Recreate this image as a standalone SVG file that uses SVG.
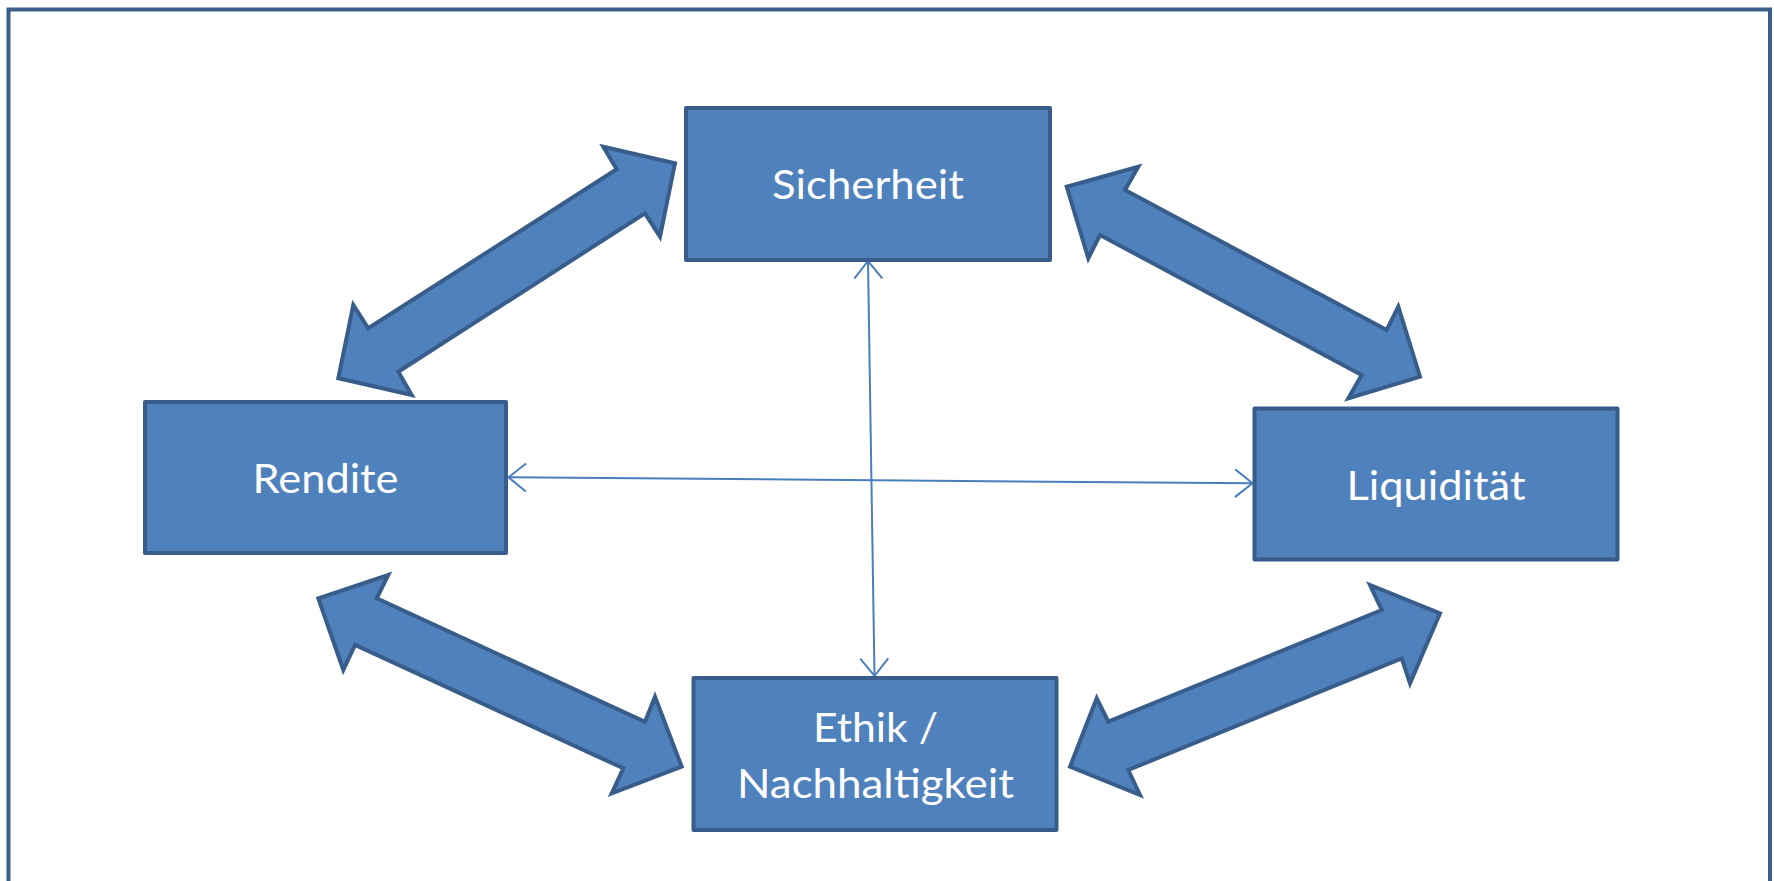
<svg xmlns="http://www.w3.org/2000/svg" width="1774" height="881" viewBox="0 0 1774 881">
<style>
.box{fill:#4f81bd;stroke:#385d8a;stroke-width:4;stroke-linejoin:round}
.big{fill:#4f81bd;stroke:#385d8a;stroke-width:4;stroke-linejoin:miter}
.lbl{font-family:Lato,"Open Sans","Liberation Sans",sans-serif;font-size:41px;fill:#ffffff;text-anchor:middle}
.thin{fill:none;stroke:#4a7ebb;stroke-width:2}
</style>
<defs>
<marker id="open" markerUnits="userSpaceOnUse" markerWidth="40" markerHeight="40" viewBox="-20 -20 40 40" refX="0" refY="0" orient="auto-start-reverse" overflow="visible">
<path d="M-17.5,-14 L0,0 L-17.5,14" fill="none" stroke="#4a7ebb" stroke-width="2"/>
</marker>
</defs>
<rect x="0" y="0" width="1774" height="881" fill="#ffffff"/>
<rect id="frame" x="8.5" y="9.5" width="1761.5" height="900" fill="none" stroke="#3a5f8b" stroke-width="4"/>
<g id="connectors">
<polygon class="big" points="603.3,146.7 675,163.3 660,236.7 645,213.3 398.3,371.7 411.7,395 338.3,378.3 353.3,305 368.3,328.3 616.7,169.3"/>
<polygon class="big" points="1066.7,186.7 1138.3,166.7 1125,190 1386.7,330 1398.3,306.7 1420,376.7 1348.3,398.3 1361.7,375 1100,235 1088.3,258.3"/>
<polygon class="big" points="318.3,598.3 388.3,575 376.7,598.3 645,721.7 655,696.7 681.7,766.7 611.7,793.3 623.3,768.3 355,645 343.3,670"/>
<polygon class="big" points="1440,613.3 1370,585 1381.7,610 1108.3,721.7 1096.7,698.3 1070,766.7 1140,795 1128.3,770 1401.7,658.3 1410,683.3"/>
<line class="thin" x1="868" y1="261" x2="874.5" y2="676" marker-start="url(#open)" marker-end="url(#open)"/>
<line class="thin" x1="508.5" y1="477.3" x2="1252.5" y2="483.3" marker-start="url(#open)" marker-end="url(#open)"/>
</g>
<g id="sicherheit">
<rect class="box" x="686" y="108" width="364" height="152"/>
<text class="lbl" x="868" y="199" textLength="192" lengthAdjust="spacingAndGlyphs">Sicherheit</text>
</g>
<g id="rendite">
<rect class="box" x="145" y="402" width="361" height="151"/>
<text class="lbl" x="325.5" y="493" textLength="146" lengthAdjust="spacingAndGlyphs">Rendite</text>
</g>
<g id="liquiditaet">
<rect class="box" x="1254.5" y="408.5" width="363" height="151"/>
<text class="lbl" x="1436" y="500" textLength="179" lengthAdjust="spacingAndGlyphs">Liquidität</text>
</g>
<g id="ethik">
<rect class="box" x="693.5" y="678" width="363" height="152"/>
<text class="lbl" x="875.5" y="742" textLength="125" lengthAdjust="spacingAndGlyphs">Ethik /</text>
<text class="lbl" x="875.5" y="798" textLength="277" lengthAdjust="spacingAndGlyphs">Nachhaltigkeit</text>
</g>
</svg>
